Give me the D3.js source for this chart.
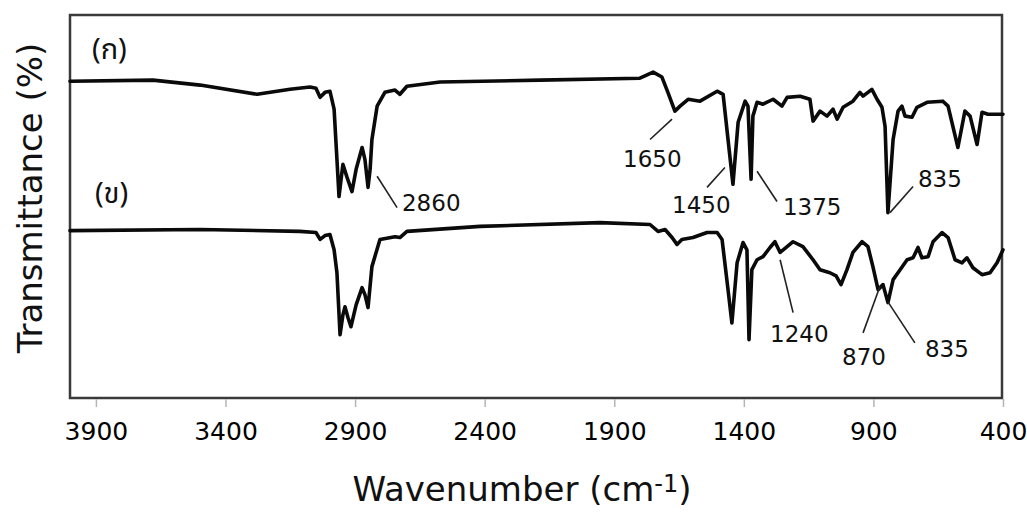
<!DOCTYPE html>
<html>
<head>
<meta charset="utf-8">
<script src="https://cdn.jsdelivr.net/npm/d3@7"></script>
<style>
  body { margin: 0; background: #fff; }
  svg { display: block; }
  text { font-family: "DejaVu Sans", Verdana, sans-serif; }
</style>
</head>
<body>
<div id="chart"></div>
<script>
// wavenumber (cm-1), transmittance (arbitrary %, offset spectra)
var specA = [
  [4000, 82.7], [3680, 83.0], [3498, 81.7], [3278, 79.3], [3151, 80.6], [3074, 81.2], [3051, 80.9],
  [3035, 78.5], [3016, 79.8], [2997, 80.1], [2981, 75.4], [2970, 62.3], [2962, 52.6], [2954, 57.1],
  [2947, 61.0], [2931, 57.6], [2912, 53.9], [2896, 59.7], [2873, 65.4], [2862, 62.3], [2850, 55.0],
  [2842, 59.7], [2835, 67.5], [2815, 76.2], [2785, 79.8], [2746, 80.4], [2727, 79.3], [2700, 81.4],
  [2572, 82.5], [2186, 83.0], [1801, 83.5], [1750, 85.1], [1716, 83.8], [1693, 79.8], [1666, 74.9],
  [1646, 76.2], [1615, 78.0], [1569, 77.5], [1503, 80.1], [1480, 79.3], [1461, 67.5], [1442, 55.8],
  [1422, 72.0], [1395, 77.5], [1384, 76.2], [1372, 57.1], [1365, 73.6], [1349, 77.2], [1326, 76.7],
  [1287, 78.0], [1253, 76.2], [1233, 78.5], [1183, 78.8], [1145, 78.0], [1133, 72.3], [1106, 74.9],
  [1079, 73.6], [1056, 75.4], [1040, 72.8], [1017, 75.9], [979, 77.5], [952, 79.8], [940, 78.8],
  [906, 80.6], [886, 78.0], [867, 75.9], [855, 70.9], [844, 48.4], [824, 67.5], [805, 74.9],
  [790, 76.2], [778, 73.6], [751, 73.3], [732, 75.9], [693, 77.2], [632, 77.5], [612, 76.2],
  [574, 65.4], [547, 74.9], [527, 73.6], [500, 66.2], [481, 74.6], [458, 74.1], [400, 74.1]
];
var specB = [
  [4000, 43.7], [3498, 44.0], [3113, 43.5], [3051, 43.2], [3035, 41.4], [3016, 42.4], [2997, 42.7],
  [2981, 38.7], [2970, 32.7], [2958, 16.5], [2947, 21.7], [2939, 23.8], [2927, 20.9], [2916, 18.6],
  [2896, 24.3], [2873, 28.8], [2862, 27.0], [2850, 23.6], [2835, 34.3], [2804, 41.4], [2746, 42.1],
  [2727, 41.9], [2700, 43.5], [2418, 44.8], [1955, 45.8], [1762, 45.3], [1731, 43.5], [1704, 44.0],
  [1677, 41.9], [1658, 40.1], [1639, 41.4], [1596, 41.9], [1542, 43.2], [1503, 43.2], [1484, 41.4],
  [1461, 28.3], [1446, 19.6], [1426, 35.3], [1403, 40.6], [1388, 38.7], [1380, 15.2], [1369, 33.5],
  [1349, 36.1], [1326, 36.9], [1299, 39.3], [1280, 40.8], [1260, 38.0], [1233, 39.5], [1210, 40.8],
  [1172, 39.5], [1133, 36.1], [1106, 33.5], [1068, 32.7], [1044, 31.9], [1025, 29.6], [1002, 33.5],
  [979, 38.0], [944, 40.8], [921, 39.5], [902, 34.3], [882, 28.3], [863, 29.6], [844, 24.9],
  [824, 30.9], [797, 33.5], [770, 36.1], [747, 36.6], [728, 39.3], [713, 36.6], [689, 36.9],
  [670, 40.8], [635, 43.2], [612, 41.9], [585, 36.1], [558, 35.3], [539, 36.6], [516, 34.0],
  [481, 32.2], [450, 32.7], [423, 35.3], [400, 38.7]
];
var xTicks = [3900, 3400, 2900, 2400, 1900, 1400, 900, 400];
// sample labels: text, wavenumber, transmittance
var sampleLabels = [["(ก)", 3915, 88.5], ["(ข)", 3904, 51.0]];
// peak labels: text, leader from [w,T] to [w,T], text at [w,T]
var peakLabels = [
  ["2860", [2815, 57.9], [2738, 49.7], [2719, 48.7]],
  ["1650", [1677, 72.8], [1762, 67.5], [1866, 60.2]],
  ["1450", [1473, 60.2], [1542, 55.0], [1677, 48.4]],
  ["1375", [1349, 59.2], [1272, 51.3], [1249, 47.9]],
  ["835",  [836, 48.4],  [747, 55.2],  [728, 55.0]],
  ["1240", [1260, 36.1], [1210, 22.3], [1299, 14.7]],
  ["870",  [875, 29.1],  [940, 17.0],  [1021, 8.6]],
  ["835",  [844, 25.1],  [740, 14.4],  [701, 10.7]]
];

var W = 1027, H = 513;
var margin = {left: 70, right: 24, top: 15, bottom: 115};
var width = W - margin.left - margin.right,
    height = H - margin.top - margin.bottom;

var svg = d3.select("#chart").append("svg")
    .attr("width", W)
    .attr("height", H);
var g = svg.append("g").attr("transform", "translate(" + margin.left + "," + margin.top + ")");

var x = d3.scaleLinear().domain([4000, 400]).range([0, width]);
var y = d3.scaleLinear().domain([0, 100]).range([height, 0]);

// frame
g.append("rect")
    .attr("x", 0).attr("y", 0)
    .attr("width", x(400) - 1).attr("height", height)
    .attr("fill", "none")
    .attr("stroke", "#3a3a3a")
    .attr("stroke-width", 2.5);

// x axis
var xAxis = g.append("g")
    .attr("transform", "translate(0," + (height + 1) + ")")
    .call(d3.axisBottom(x).tickValues(xTicks).tickSize(8).tickPadding(15).tickFormat(d3.format("d")));
xAxis.select(".domain").remove();
xAxis.selectAll(".tick line").attr("stroke", "#b5b5b5").attr("stroke-width", 1.5);
xAxis.selectAll(".tick text")
    .attr("fill", "#000")
    .style("font-size", "25px")
    .style("font-family", "'DejaVu Sans', Verdana, sans-serif");

// axis titles
var title = svg.append("text")
    .attr("x", 522).attr("y", 501)
    .attr("text-anchor", "middle")
    .attr("fill", "#111")
    .style("font-size", "34px");
title.append("tspan").text("Wavenumber (cm");
title.append("tspan").attr("dy", -9).style("font-size", "24px").text("-1");
title.append("tspan").attr("dy", 9).text(")");

svg.append("text")
    .attr("transform", "translate(42," + 198 + ") rotate(-90)")
    .attr("text-anchor", "middle")
    .attr("fill", "#111")
    .style("font-size", "34px")
    .text("Transmittance (%)");

// spectra
var line = d3.line()
    .x(function(d) { return x(d[0]); })
    .y(function(d) { return y(d[1]); });

[specA, specB].forEach(function(s) {
    g.append("path")
        .datum(s)
        .attr("fill", "none")
        .attr("stroke", "#0a0a0a")
        .attr("stroke-width", 3.6)
        .attr("stroke-linejoin", "round")
        .attr("stroke-linecap", "round")
        .attr("d", line);
});

// sample labels
g.selectAll(".sample")
    .data(sampleLabels)
    .enter().append("text")
    .attr("class", "sample")
    .attr("x", function(d) { return x(d[1]); })
    .attr("y", function(d) { return y(d[2]); })
    .attr("fill", "#111")
    .style("font-size", "29px")
    .style("font-family", "'Noto Sans Thai', 'Noto Sans', 'DejaVu Sans', sans-serif")
    .text(function(d) { return d[0]; });

// peak annotations
var peaks = g.selectAll(".peak").data(peakLabels).enter().append("g").attr("class", "peak");
peaks.append("line")
    .attr("x1", function(d) { return x(d[1][0]); })
    .attr("y1", function(d) { return y(d[1][1]); })
    .attr("x2", function(d) { return x(d[2][0]); })
    .attr("y2", function(d) { return y(d[2][1]); })
    .attr("stroke", "#222")
    .attr("stroke-width", 1.6);
peaks.append("text")
    .attr("x", function(d) { return x(d[3][0]); })
    .attr("y", function(d) { return y(d[3][1]); })
    .attr("fill", "#111")
    .style("font-size", "23px")
    .text(function(d) { return d[0]; });
</script>
</body>
</html>
